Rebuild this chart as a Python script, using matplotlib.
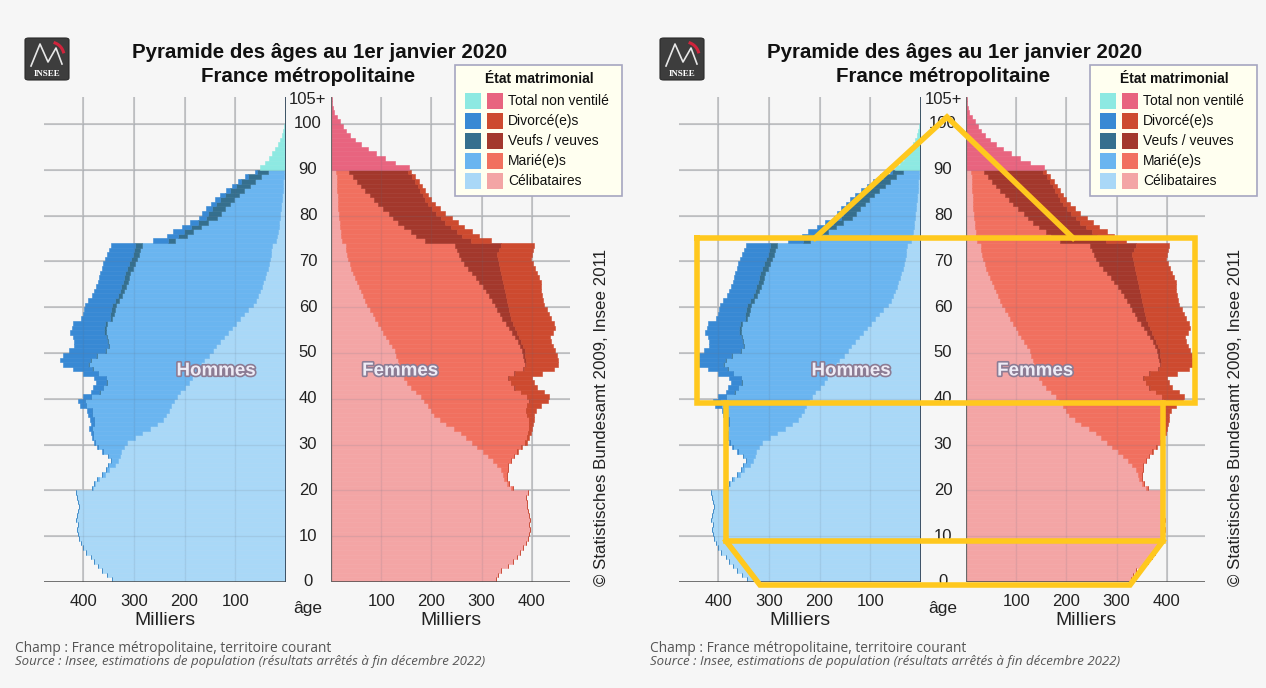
import matplotlib
matplotlib.use("Agg")
import matplotlib.pyplot as plt
import matplotlib.patheffects as pe
import matplotlib.transforms as mtransforms
from matplotlib.patches import Rectangle, FancyBboxPatch
from matplotlib.lines import Line2D
import numpy as np

W, H = 1266, 688

# population au 1er janvier 2020, en milliers, ages 0 a 89
hommes_celib = [343, 352, 362, 370, 378, 385, 395, 400, 404, 408,
                410, 412, 410, 414, 412, 410, 408, 410, 412, 414,
                381, 376, 369, 357, 348, 338, 331, 328, 325, 320,
                314, 298, 283, 268, 255, 243, 236, 230, 226, 220,
                215, 208, 200, 192, 186, 180, 174, 168, 162, 152,
                144, 137, 130, 122, 115, 107, 99, 91, 83, 74,
                65, 60, 56, 52, 48, 45, 42, 39, 36, 34,
                32, 30, 29, 28, 20, 18, 16, 14, 13, 12,
                11, 10, 9, 8, 7, 6, 5, 5, 4, 3]
hommes_maries = [0, 0, 0, 0, 0, 0, 0, 0, 0, 0,
                 0, 0, 0, 0, 0, 0, 0, 0, 0, 0,
                 1, 2, 3, 5, 7, 12, 14, 22, 36, 51,
                 62, 82, 98, 115, 124, 136, 146, 152, 168, 176,
                 169, 159, 160, 161, 168, 190, 206, 220, 223, 220,
                 211, 211, 220, 230, 240, 247, 253, 251, 257, 264,
                 271, 270, 268, 268, 268, 267, 268, 268, 266, 264,
                 262, 260, 258, 255, 198, 177, 167, 153, 140, 124,
                 118, 111, 102, 95, 86, 76, 66, 57, 46, 33]
hommes_veufs = [0, 0, 0, 0, 0, 0, 0, 0, 0, 0,
                0, 0, 0, 0, 0, 0, 0, 0, 0, 0,
                0, 0, 0, 0, 0, 0, 0, 0, 0, 0,
                0, 0, 0, 0, 0, 0, 0, 0, 0, 0,
                1, 1, 1, 1, 1, 1, 2, 2, 2, 2,
                2, 3, 3, 3, 4, 4, 5, 5, 6, 6,
                7, 7, 8, 8, 9, 9, 10, 10, 11, 11,
                12, 12, 13, 14, 14, 18, 19, 20, 21, 22,
                24, 25, 26, 27, 28, 28, 28, 27, 25, 22]
hommes_divorces = [0, 0, 0, 0, 0, 0, 0, 0, 0, 0,
                   0, 0, 0, 0, 0, 0, 0, 0, 0, 0,
                   0, 0, 0, 0, 0, 0, 0, 0, 1, 1,
                   2, 3, 4, 5, 6, 7, 8, 10, 12, 14,
                   15, 17, 19, 21, 23, 29, 38, 50, 58, 66,
                   71, 67, 65, 65, 66, 64, 63, 58, 54, 54,
                   53, 53, 50, 50, 49, 49, 48, 49, 49, 51,
                   50, 50, 48, 48, 30, 22, 20, 18, 16, 14,
                   13, 12, 11, 10, 9, 8, 7, 6, 5, 4]
# ages 90 a 105+, etat matrimonial non ventile
hommes_non_ventile = [52, 41, 33, 27, 21, 16, 12, 8, 6, 4, 2.5, 1.5, 1, 0.5, 0.3, 0.3]

femmes_celib = [329, 333, 339, 352, 362, 370, 376, 382, 388, 392,
                395, 396, 394, 397, 395, 393, 391, 390, 389, 392,
                358, 350, 345, 342, 338, 330, 322, 312, 302, 290,
                280, 268, 258, 245, 230, 218, 206, 200, 193, 186,
                180, 170, 160, 152, 146, 142, 139, 136, 133, 130,
                127, 121, 115, 110, 104, 99, 94, 88, 83, 78,
                72, 68, 64, 60, 56, 52, 48, 44, 40, 37,
                34, 32, 30, 29, 22, 20, 19, 18, 17, 16,
                15, 14, 14, 13, 13, 12, 12, 11, 11, 10]
femmes_mariees = [0, 0, 0, 0, 0, 0, 0, 0, 0, 0,
                  0, 0, 0, 0, 0, 0, 0, 0, 0, 0,
                  4, 5, 5, 8, 14, 22, 36, 53, 69, 88,
                  107, 123, 135, 149, 164, 177, 184, 188, 197, 209,
                  210, 208, 205, 206, 206, 223, 243, 250, 252, 253,
                  253, 256, 257, 256, 256, 256, 254, 253, 253, 253,
                  254, 252, 251, 249, 246, 243, 241, 236, 232, 228,
                  225, 222, 220, 218, 165, 150, 140, 128, 117, 108,
                  100, 90, 80, 72, 64, 55, 47, 40, 33, 26]
femmes_veuves = [0, 0, 0, 0, 0, 0, 0, 0, 0, 0,
                 0, 0, 0, 0, 0, 0, 0, 0, 0, 0,
                 0, 0, 0, 0, 0, 0, 0, 0, 0, 0,
                 0, 0, 0, 0, 0, 0, 0, 1, 1, 1,
                 1, 1, 1, 1, 2, 2, 2, 2, 3, 3,
                 6, 6, 7, 9, 11, 12, 15, 18, 21, 24,
                 26, 30, 33, 37, 42, 47, 52, 59, 65, 69,
                 73, 76, 84, 91, 91, 90, 91, 92, 94, 95,
                 95, 98, 100, 103, 106, 111, 114, 116, 117, 118]
femmes_divorcees = [0, 0, 0, 0, 0, 0, 0, 0, 0, 0,
                    0, 0, 0, 0, 0, 0, 0, 0, 0, 0,
                    0, 0, 0, 0, 0, 0, 0, 0, 1, 2,
                    3, 4, 5, 6, 8, 10, 15, 19, 27, 36,
                    44, 46, 44, 46, 46, 53, 61, 64, 64, 64,
                    60, 59, 59, 62, 71, 79, 82, 79, 77, 75,
                    73, 72, 72, 72, 74, 76, 73, 71, 70, 68,
                    66, 70, 68, 67, 40, 35, 30, 27, 24, 21,
                    18, 16, 14, 12, 11, 10, 9, 8, 7, 6]
femmes_non_ventile = [155, 128, 107, 89, 73, 59, 48, 38, 30, 24, 18, 11, 6, 3, 1.5, 1]

categories = ["Célibataires", "Marié(e)s", "Veufs / veuves", "Divorcé(e)s", "Total non ventilé"]
couleurs_h = ["#a9d8f7", "#6ab5f0", "#356f8e", "#3889d4", "#8de9e2"]
couleurs_f = ["#f3a5a5", "#f1705f", "#a3382c", "#cd4a2f", "#e8647f"]

age_ticks = [0, 10, 20, 30, 40, 50, 60, 70, 80, 90, 100]
x_ticks = [100, 200, 300, 400]

NARROW = ["Liberation Sans Narrow", "Liberation Sans", "DejaVu Sans"]
ARIAL = ["Liberation Sans", "DejaVu Sans"]
GRID = "#c6c6c6"
BG = "#f6f6f6"

fig = plt.figure(figsize=(W / 100, H / 100), dpi=100)
fig.patch.set_facecolor(BG)


def fx(x):
    return x / W


def fy(y):
    return 1 - y / H


def draw_side(ax, series, colors, rest, rest_color):
    ages = np.arange(len(series[0]))
    left = np.zeros(len(ages))
    for vals, col in zip(series, colors):
        ax.barh(ages, vals, left=left, height=1, align="edge", color=col,
                edgecolor=col, linewidth=0.4, zorder=2)
        left = left + np.array(vals)
    ax.barh(np.arange(90, 90 + len(rest)), rest, height=1, align="edge",
            color=rest_color, edgecolor=rest_color, linewidth=0.4, zorder=2)


def panel(dx, overlay=False):
    bottom = 106 / H
    height = 485.5 / H
    ax_h = fig.add_axes([fx(44 + dx), bottom, 242 / W, height])
    ax_f = fig.add_axes([fx(331 + dx), bottom, 239 / W, height])
    ax_h.set_xlim(477, 0)
    ax_f.set_xlim(0, 476)
    draw_side(ax_h, [hommes_celib, hommes_maries, hommes_veufs, hommes_divorces],
              couleurs_h[:4], hommes_non_ventile, couleurs_h[4])
    draw_side(ax_f, [femmes_celib, femmes_mariees, femmes_veuves, femmes_divorcees],
              couleurs_f[:4], femmes_non_ventile, couleurs_f[4])
    for ax in (ax_h, ax_f):
        ax.set_facecolor("none")
        ax.set_ylim(0, 106)
        for s in ax.spines.values():
            s.set_visible(False)
        ax.set_yticks([])
        ax.set_xticks(x_ticks)
        ax.set_xticklabels([str(t) for t in x_ticks], fontfamily=NARROW, fontsize=12)
        ax.tick_params(axis="x", length=0, pad=9, colors="#222")
        ax.set_xlabel("Milliers", fontfamily=NARROW, fontsize=14, labelpad=2, color="#222")
        for t in x_ticks:
            ax.axvline(t, color=GRID, lw=1.3, zorder=1)
            ax.axvline(t, color="#5a6a80", lw=1.0, alpha=0.12, zorder=3)
        for a in age_ticks[1:]:
            ax.axhline(a, color=GRID, lw=1.3, zorder=1)
            ax.axhline(a, color="#5a6a80", lw=1.0, alpha=0.12, zorder=3)
        ax.axhline(0, color="#4a4a4a", lw=1.8, zorder=4)
    ax_h.axvline(0, color="#34465a", lw=1.3, zorder=4)
    ax_f.axvline(0, color="#6a6a6a", lw=0.9, zorder=4)

    # ages au centre
    tr = mtransforms.blended_transform_factory(fig.transFigure, ax_h.transData)
    for a in age_ticks:
        fig.text(fx(308 + dx), a, str(a), transform=tr, ha="center", va="center",
                 fontfamily=NARROW, fontsize=12, color="#222")
    fig.text(fx(308 + dx), 105.4, "105+", transform=tr, ha="center", va="center",
             fontfamily=NARROW, fontsize=12, color="#222")
    fig.text(fx(308 + dx), fy(609), "âge", ha="center", va="center",
             fontfamily=NARROW, fontsize=12.5, color="#222")

    effets = [pe.withStroke(linewidth=2.4, foreground="#8c7c94")]
    fig.text(fx(216 + dx), fy(371), "Hommes", ha="center", va="center", fontsize=13.5,
             fontweight="bold", fontfamily=ARIAL, color="#eeecf6", path_effects=effets, zorder=5)
    fig.text(fx(400 + dx), fy(371), "Femmes", ha="center", va="center", fontsize=13.5,
             fontweight="bold", fontfamily=ARIAL, color="#eeecf6", path_effects=effets, zorder=5)

    # titre
    fig.text(fx(320 + dx), fy(53), "Pyramide des âges au 1er janvier 2020", ha="center",
             va="center", fontsize=14.8, fontweight="bold", fontfamily=ARIAL, color="#111")
    fig.text(fx(308 + dx), fy(76), "France métropolitaine", ha="center",
             va="center", fontsize=14.8, fontweight="bold", fontfamily=ARIAL, color="#111")

    # logo Insee
    fig.add_artist(FancyBboxPatch((fx(25 + dx), fy(80)), 44 / W, 42 / H,
                                  boxstyle="round,pad=0,rounding_size=0.003",
                                  transform=fig.transFigure, facecolor="#3d3d3d",
                                  edgecolor="#2a2a2a", lw=0.8))
    fig.add_artist(Line2D([fx(31 + dx), fx(40 + dx), fx(48 + dx), fx(56 + dx), fx(62 + dx)],
                          [fy(66), fy(44), fy(62), fy(48), fy(64)],
                          transform=fig.transFigure, color="#e8e8e8", lw=1.2))
    arc = np.linspace(0.3, 1.2, 20)
    fig.add_artist(Line2D(fx(50 + dx) + 14 / W * np.cos(arc), fy(56) + 14 / H * np.sin(arc),
                          transform=fig.transFigure, color="#d0243c", lw=2.2))
    fig.text(fx(47 + dx), fy(74), "INSEE", ha="center", va="center", fontsize=6.5,
             fontweight="bold", fontfamily=["Liberation Serif", "DejaVu Serif"], color="white")

    # legende
    fig.add_artist(Rectangle((fx(455 + dx), fy(196)), 167 / W, 131 / H, transform=fig.transFigure,
                             facecolor="#fffff0", edgecolor="#a6a6c0", lw=1.2, zorder=6))
    fig.text(fx(539 + dx), fy(79), "État matrimonial", ha="center", va="center", fontsize=10,
             fontweight="bold", fontfamily=ARIAL, color="#111", zorder=7)
    rows = list(zip(categories, couleurs_h, couleurs_f))[::-1]
    for i, (lab, ch, cf) in enumerate(rows):
        yc = 101 + 20 * i
        fig.add_artist(Rectangle((fx(465 + dx), fy(yc + 8)), 16 / W, 16 / H,
                                 transform=fig.transFigure, facecolor=ch, lw=0, zorder=7))
        fig.add_artist(Rectangle((fx(487 + dx), fy(yc + 8)), 16 / W, 16 / H,
                                 transform=fig.transFigure, facecolor=cf, lw=0, zorder=7))
        fig.text(fx(508 + dx), fy(yc), lab, ha="left", va="center", fontsize=10,
                 fontfamily=NARROW, color="#111", zorder=7)

    fig.text(fx(601 + dx), fy(586), "© Statistisches Bundesamt 2009, Insee 2011", rotation=90,
             ha="center", va="bottom", fontsize=12.2, fontfamily=ARIAL, color="#222")

    fig.text(fx(15 + dx), fy(648), "Champ : France métropolitaine, territoire courant",
             ha="left", va="center", fontsize=9.9, fontfamily=["Open Sans", "DejaVu Sans"],
             color="#555")
    fig.text(fx(15 + dx), fy(662),
             "Source : Insee, estimations de population (résultats arrêtés à fin décembre 2022)",
             ha="left", va="center", fontsize=9.5, fontstyle="italic",
             fontfamily=["Open Sans", "DejaVu Sans"], color="#555")

    if overlay:
        jaune = "#ffc81e"
        formes = [
            [(815, 238), (947, 117), (1073, 238)],
            [(697, 238), (1195, 238), (1195, 403), (697, 403), (697, 238)],
            [(726, 403), (726, 541), (1163, 541), (1163, 403)],
            [(726, 541), (760, 585), (1130, 585), (1163, 541)],
        ]
        for pts in formes:
            xs = [fx(p[0]) for p in pts]
            ys = [fy(p[1]) for p in pts]
            fig.add_artist(Line2D(xs, ys, transform=fig.transFigure, color=jaune, lw=4,
                                  solid_joinstyle="miter", solid_capstyle="projecting", zorder=10))


panel(0)
panel(635, overlay=True)

fig.savefig("out.png", dpi=100, facecolor=fig.get_facecolor())
